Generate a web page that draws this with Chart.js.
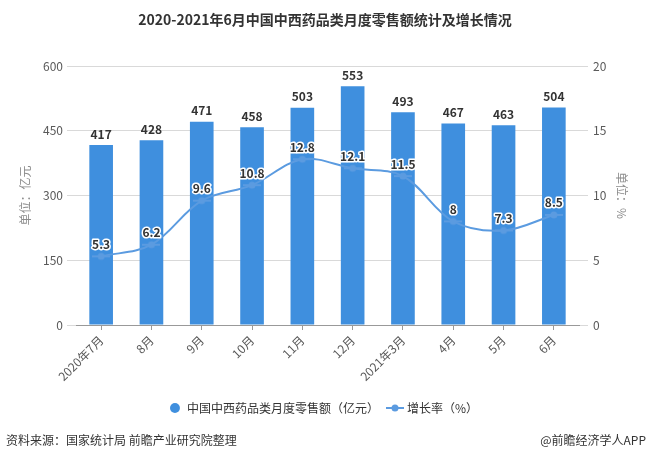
<!DOCTYPE html>
<html>
<head>
<meta charset="utf-8">
<script src="https://cdn.jsdelivr.net/npm/chart.js@4/dist/chart.umd.min.js"></script>
<style>
  html, body { margin: 0; padding: 0; background: #fff; }
  #wrap { width: 651px; height: 462px; position: relative; }
</style>
</head>
<body>
<div id="wrap"><canvas id="myChart" width="651" height="462"></canvas></div>
<script>
const months = ["2020年7月", "8月", "9月", "10月", "11月", "12月", "2021年3月", "4月", "5月", "6月"];
const sales = [417, 428, 471, 458, 503, 553, 493, 467, 463, 504];
const growth = [5.3, 6.2, 9.6, 10.8, 12.8, 12.1, 11.5, 8, 7.3, 8.5];
const salesTicks = [0, 150, 300, 450, 600];
const growthTicks = [0, 5, 10, 15, 20];

const FONT = "'Noto Sans CJK SC', 'Noto Sans', sans-serif";
const barColor = "#3f8fde";
const lineColor = "#5b9be0";

// small legend marker: line with a dot
const lineMarker = document.createElement("canvas");
lineMarker.width = 18;
lineMarker.height = 10;
(function () {
  const c = lineMarker.getContext("2d");
  c.strokeStyle = lineColor;
  c.lineWidth = 2;
  c.beginPath();
  c.moveTo(0, 5);
  c.lineTo(18, 5);
  c.stroke();
  c.fillStyle = lineColor;
  c.beginPath();
  c.arc(9, 5, 3.5, 0, Math.PI * 2);
  c.fill();
})();

const textPlugin = {
  id: "textPlugin",
  afterDatasetsDraw(chart) {
    const ctx = chart.ctx;
    ctx.save();
    // bar value labels
    const barMeta = chart.getDatasetMeta(0);
    ctx.font = "bold 12px " + FONT;
    ctx.fillStyle = "#333";
    ctx.textAlign = "center";
    ctx.textBaseline = "middle";
    barMeta.data.forEach((bar, i) => {
      ctx.fillText(sales[i], bar.x, bar.y - 11);
    });
    // line value labels
    const lineMeta = chart.getDatasetMeta(1);
    ctx.lineWidth = 3;
    ctx.strokeStyle = "#fff";
    ctx.lineJoin = "round";
    lineMeta.data.forEach((pt, i) => {
      ctx.strokeText(growth[i], pt.x, pt.y - 12);
      ctx.fillStyle = "#333";
      ctx.fillText(growth[i], pt.x, pt.y - 12);
    });
    ctx.restore();
  },
  afterDraw(chart) {
    const ctx = chart.ctx;
    ctx.save();
    ctx.fillStyle = "#333";
    ctx.textBaseline = "middle";
    ctx.font = "bold 14px " + FONT;
    ctx.textAlign = "center";
    ctx.fillText("2020-2021年6月中国中西药品类月度零售额统计及增长情况", 325, 20);
    ctx.font = "12px " + FONT;
    ctx.textAlign = "left";
    ctx.fillText("资料来源：国家统计局 前瞻产业研究院整理", 6, 440);
    ctx.textAlign = "right";
    ctx.fillText("@前瞻经济学人APP", 646, 440);
    ctx.restore();
  }
};

const ctx = document.getElementById("myChart").getContext("2d");
new Chart(ctx, {
  data: {
    labels: months,
    datasets: [
      {
        type: "bar",
        label: "中国中西药品类月度零售额（亿元）",
        data: sales,
        backgroundColor: barColor,
        categoryPercentage: 1,
        barPercentage: 0.47,
        yAxisID: "y",
        order: 2,
        pointStyle: "circle"
      },
      {
        type: "line",
        label: "增长率（%）",
        data: growth,
        borderColor: lineColor,
        backgroundColor: lineColor,
        borderWidth: 2,
        tension: 0.35,
        pointRadius: 3,
        pointBackgroundColor: lineColor,
        pointBorderColor: lineColor,
        yAxisID: "y1",
        order: 1,
        pointStyle: lineMarker
      }
    ]
  },
  options: {
    responsive: false,
    animation: false,
    layout: { padding: { top: 66, bottom: 38, left: 18, right: 22 } },
    plugins: {
      title: { display: false },
      tooltip: { enabled: false },
      legend: {
        position: "bottom",
        labels: {
          usePointStyle: true,
          boxWidth: 12,
          boxHeight: 7,
          padding: 10,
          color: "#333",
          font: { size: 12, family: FONT },
          sort: (a, b) => a.datasetIndex - b.datasetIndex
        }
      }
    },
    scales: {
      x: {
        offset: true,
        grid: { display: true, drawOnChartArea: false, offset: false, tickLength: 5, color: "#999" },
        border: { color: "#999" },
        ticks: {
          color: "#595959",
          font: { size: 12, family: FONT },
          minRotation: 45,
          maxRotation: 45,
          autoSkip: false
        },
        afterFit(scale) { scale.height = 67; }
      },
      y: {
        position: "left",
        min: 0,
        max: 600,
        afterBuildTicks(scale) { scale.ticks = salesTicks.map(v => ({ value: v })); },
        grid: { color: "#d9d9d9", tickLength: 9 },
        border: { display: false },
        ticks: { color: "#595959", font: { size: 12, family: FONT }, padding: 4 },
        title: {
          display: true,
          text: "单位：亿元",
          color: "#8c8c8c",
          font: { size: 12, family: FONT },
          padding: { top: 0, bottom: 4 }
        },
        afterFit(scale) { scale.width = 58; }
      },
      y1: {
        position: "right",
        min: 0,
        max: 20,
        afterBuildTicks(scale) { scale.ticks = growthTicks.map(v => ({ value: v })); },
        grid: { drawOnChartArea: false, color: "#d9d9d9", tickLength: 9 },
        border: { display: false },
        ticks: { color: "#595959", font: { size: 12, family: FONT }, padding: 5 },
        title: {
          display: true,
          text: "单位：%",
          color: "#8c8c8c",
          font: { size: 12, family: FONT },
          padding: { top: 0, bottom: 4 }
        },
        afterFit(scale) { scale.width = 50; }
      }
    }
  },
  plugins: [textPlugin]
});
</script>
</body>
</html>
